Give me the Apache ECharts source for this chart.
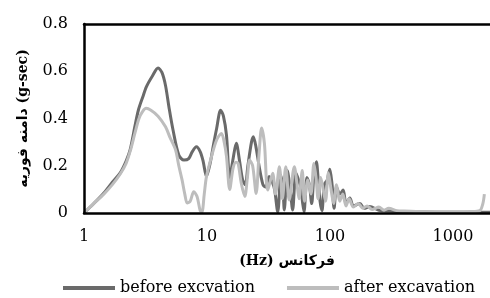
<!DOCTYPE html>
<html><head><meta charset="utf-8">
<script src="https://cdn.jsdelivr.net/npm/echarts@6/dist/echarts.min.js"></script>
<style>html,body{margin:0;padding:0;background:#fff}#c{width:490px;height:298px}</style>
</head><body><div id="c"></div>
<script>
var freqBefore = [1.0,1.2,1.45,1.7,1.97,2.2,2.37,2.6,2.77,3.0,3.22,3.6,4.0,4.3,4.6,4.9,5.3,5.9,6.5,7.1,7.6,8.2,8.8,9.3,9.9,10.6,11.3,12.0,12.9,13.6,14.4,15.3,16.3,17.3,18.4,19.5,20.5,21.5,23.0,23.8,25.0,26.5,28.5,30.0,32.0,34.0,35.5,37.6,39.9,41.5,42.5,45.0,47.5,49.7,52.8,55.5,57.8,60.0,61.5,65.0,68.0,71.0,74.0,77.5,80.0,83.0,86.0,90.0,95.0,99.7,104,108,113,120,128,135,145,155,175,190,210,250,300,400,600,1000,1500,2000];
var ampBefore = [0,0.04,0.085,0.13,0.17,0.22,0.267,0.37,0.436,0.49,0.535,0.58,0.614,0.595,0.54,0.45,0.35,0.245,0.224,0.23,0.26,0.28,0.26,0.22,0.155,0.21,0.29,0.36,0.435,0.41,0.33,0.15,0.23,0.295,0.22,0.14,0.12,0.2,0.3,0.323,0.28,0.2,0.12,0.11,0.155,0.13,0.097,0.005,0.16,0.1,0.013,0.18,0.1,0.013,0.17,0.14,0.11,0.04,0.005,0.15,0.12,0.04,0.16,0.217,0.15,0.05,0.01,0.12,0.14,0.185,0.12,0.02,0.11,0.08,0.097,0.04,0.063,0.03,0.04,0.02,0.027,0.012,0.008,0.005,0.004,0.003,0.003,0.003];
var freqAfter = [1.0,1.2,1.45,1.7,1.97,2.2,2.4,2.6,2.8,3.0,3.2,3.5,4.0,4.6,5.0,5.55,5.9,6.27,6.6,6.9,7.3,7.8,8.3,8.8,9.1,9.5,9.9,10.9,12.0,13.1,13.8,14.4,15.3,16.3,17.2,17.9,19.0,20.3,21.3,22.2,23.5,25.1,26.5,27.8,29.3,31.2,34.2,36.0,38.8,41,43.7,46.6,51.3,54,56,59.5,62,66,70,74,77,80,84,88,92,97,102,107,113,120,127,135,143,155,170,185,200,220,250,275,300,350,400,500,700,1000,1400,1650,1750,1800];
var ampAfter = [0,0.04,0.08,0.12,0.165,0.21,0.27,0.34,0.4,0.43,0.443,0.435,0.41,0.365,0.32,0.267,0.2,0.14,0.08,0.042,0.05,0.09,0.07,0.01,0.005,0.08,0.154,0.24,0.31,0.337,0.3,0.24,0.1,0.19,0.215,0.21,0.126,0.07,0.15,0.224,0.2,0.083,0.25,0.36,0.295,0.097,0.168,0.08,0.196,0.06,0.196,0.055,0.196,0.12,0.06,0.18,0.05,0.14,0.08,0.21,0.15,0.06,0.15,0.1,0.05,0.17,0.1,0.04,0.12,0.05,0.08,0.03,0.06,0.025,0.04,0.02,0.03,0.015,0.025,0.012,0.02,0.01,0.008,0.006,0.005,0.005,0.006,0.01,0.04,0.08];
var seriesNames = ['before excvation','after excavation'];
var yTicks = [0,0.2,0.4,0.6,0.8];

function pairs(f,a){var r=[];for(var i=0;i<f.length;i++)r.push([f[i],a[i]]);return r;}
var serifFont = "'DejaVu Serif','Liberation Serif',serif";
var boldFont = "'DejaVu Serif','DejaVu Sans',serif";
var blackLine = {show:true,onZero:false,lineStyle:{color:'#000',width:2.5}};
var chart = echarts.init(document.getElementById('c'));
chart.setOption({
  animation:false,
  grid:{left:84,top:24,width:411,height:189},
  legend:{left:58,top:275,itemWidth:52,itemHeight:4,itemGap:32,icon:'rect',
    textStyle:{fontFamily:serifFont,fontSize:16,color:'#000'},
    data:seriesNames},
  xAxis:[{type:'log',logBase:10,min:1,max:2000,position:'bottom',z:10,
    name:'(Hz) فرکانس',nameLocation:'middle',nameGap:41,
    nameTextStyle:{fontFamily:boldFont,fontWeight:'bold',fontSize:14,color:'#000'},
    axisLine:blackLine,axisTick:{show:false},
    splitLine:{show:false},minorTick:{show:false},
    axisLabel:{fontFamily:serifFont,fontSize:16,color:'#000',margin:16,
      formatter:function(v){return String(Math.round(v));}}},
   {type:'log',logBase:10,min:1,max:2000,position:'top',z:10,
    axisLine:blackLine,axisTick:{show:false},axisLabel:{show:false},splitLine:{show:false}}],
  yAxis:{type:'value',min:yTicks[0],max:yTicks[yTicks.length-1],interval:0.2,z:10,
    name:'دامنه فوریه (g-sec)',nameLocation:'middle',nameGap:54,
    nameTextStyle:{fontFamily:boldFont,fontWeight:'bold',fontSize:14,color:'#000'},
    axisLine:blackLine,axisTick:{show:false},
    splitLine:{show:false},
    axisLabel:{fontFamily:serifFont,fontSize:16,color:'#000',margin:16}},
  series:[
    {name:seriesNames[0],type:'line',symbol:'none',smooth:0.3,data:pairs(freqBefore,ampBefore),
      lineStyle:{color:'#6a6a6a',width:3},itemStyle:{color:'#6a6a6a'}},
    {name:seriesNames[1],type:'line',symbol:'none',smooth:0.3,data:pairs(freqAfter,ampAfter),
      lineStyle:{color:'#bdbdbd',width:3},itemStyle:{color:'#bdbdbd'}}
  ]
});
</script></body></html>
